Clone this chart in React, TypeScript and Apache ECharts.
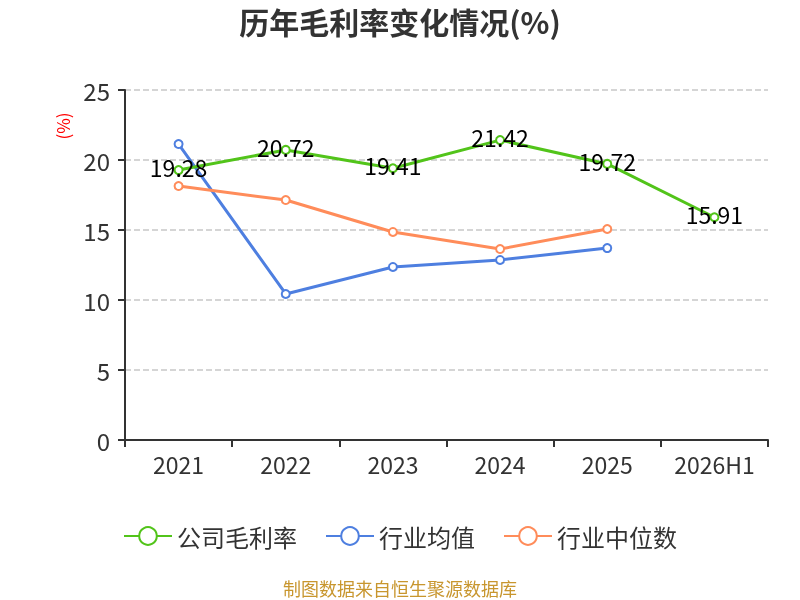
import React, { useEffect, useRef } from "react";
import * as echarts from "echarts";

const categories = ["2021", "2022", "2023", "2024", "2025", "2026H1"];
const companyMargin = [19.28, 20.72, 19.41, 21.42, 19.72, 15.91];
const industryAvg = [21.14, 10.43, 12.36, 12.86, 13.71, null];
const industryMedian = [18.14, 17.14, 14.86, 13.64, 15.07, null];

export default function App() {
  const ref = useRef<HTMLDivElement>(null);
  useEffect(() => {
    const chart = echarts.init(ref.current!, null, { renderer: "svg" });
    const font = "'Microsoft YaHei', 'Noto Sans CJK SC', sans-serif";
    chart.setOption({
      animation: false,
      textStyle: { fontFamily: font },
      title: {
        text: "历年毛利率变化情况(%)",
        left: "center",
        top: 1,
        textStyle: { fontSize: 30, fontWeight: "bold", color: "#333", fontFamily: font },
      },
      graphic: [
        {
          type: "text",
          left: "center",
          top: 579,
          style: { text: "制图数据来自恒生聚源数据库", fill: "#C8962E", fontSize: 18, fontFamily: font },
        },
        {
          type: "text",
          x: 62,
          y: 126,
          rotation: Math.PI / 2,
          style: { text: "(%)", fill: "#FF0000", fontSize: 17, fontFamily: font, align: "center", verticalAlign: "middle" },
        },
      ],
      legend: {
        top: 519,
        left: "center",
        itemWidth: 48,
        itemHeight: 22,
        itemGap: 28,
        textStyle: { fontSize: 24, color: "#333", fontFamily: font },
        data: ["公司毛利率", "行业均值", "行业中位数"],
      },
      grid: { left: 125, right: 32, top: 90, bottom: 160 },
      xAxis: {
        type: "category",
        data: categories,
        boundaryGap: true,
        axisLine: { lineStyle: { color: "#333", width: 2 } },
        axisTick: { show: true, length: 7, lineStyle: { color: "#333", width: 2 } },
        axisLabel: { fontSize: 23, color: "#333", margin: 12, interval: 0 },
      },
      yAxis: {
        type: "value",
        min: 0,
        max: 25,
        interval: 5,
        axisLine: { show: true, lineStyle: { color: "#333", width: 2 } },
        axisTick: { show: true, length: 7, lineStyle: { color: "#333", width: 2 } },
        axisLabel: { fontSize: 24, color: "#333", margin: 15 },
        splitLine: { lineStyle: { type: "dashed", color: "#c8c8c8", width: 1.5 } },
      },
      series: [
        {
          name: "公司毛利率",
          type: "line",
          data: companyMargin,
          symbol: "emptyCircle",
          symbolSize: 8,
          itemStyle: { color: "#52C41A" },
          lineStyle: { width: 3, color: "#52C41A" },
          label: { show: true, position: "inside", fontSize: 23, color: "#000", offset: [0, -3] },
          z: 3,
        },
        {
          name: "行业均值",
          type: "line",
          data: industryAvg,
          symbol: "emptyCircle",
          symbolSize: 8,
          itemStyle: { color: "#4E7FE0" },
          lineStyle: { width: 3, color: "#4E7FE0" },
          z: 2,
        },
        {
          name: "行业中位数",
          type: "line",
          data: industryMedian,
          symbol: "emptyCircle",
          symbolSize: 8,
          itemStyle: { color: "#FF8C5A" },
          lineStyle: { width: 3, color: "#FF8C5A" },
          z: 2,
        },
      ],
    });
    return () => chart.dispose();
  }, []);
  return <div ref={ref} style={{ position: "fixed", left: 0, top: 0, width: 800, height: 600 }} />;
}
